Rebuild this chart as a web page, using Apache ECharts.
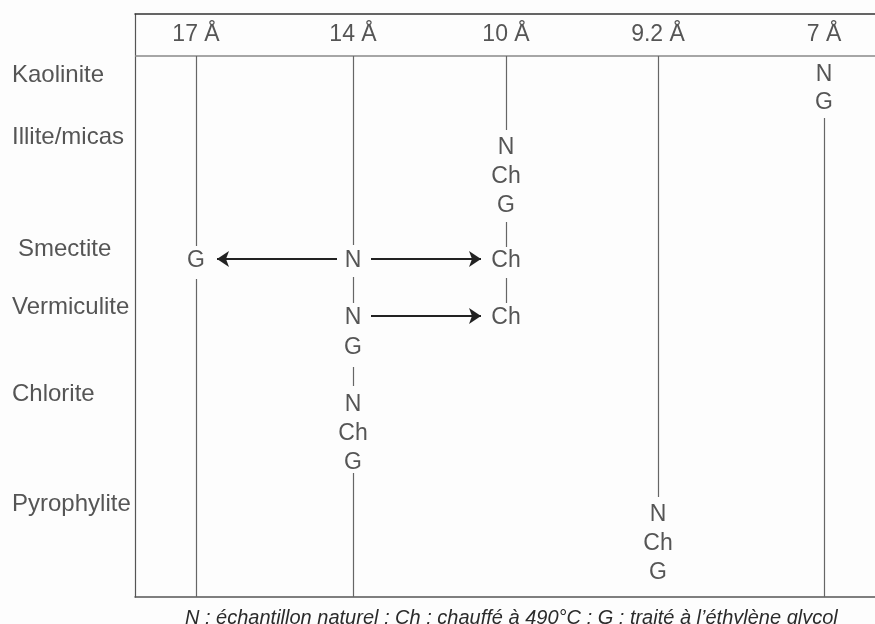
<!DOCTYPE html>
<html>
<head>
<meta charset="utf-8">
<script src="https://cdn.jsdelivr.net/npm/echarts@6/dist/echarts.min.js"></script>
<style>
html,body{margin:0;padding:0;background:#fdfdfd;}
#chart{width:875px;height:624px;}
</style>
</head>
<body>
<div id="chart"></div>
<script>
// Column headers (d-spacing) and their horizontal positions
const columns = ['17 Å', '14 Å', '10 Å', '9.2 Å', '7 Å'];
const columnX = [196, 353, 506, 658, 824];
const headerY = 35;
const headerRuleY = 56;

// Row labels (minerals) and their vertical positions
const minerals = ['Kaolinite', 'Illite/micas', 'Smectite', 'Vermiculite', 'Chlorite', 'Pyrophylite'];
const mineralY = [75, 137, 249, 307, 394, 504];
const mineralX = [12, 12, 18, 12, 12, 12];

// Treatment markers: text, column index, vertical position
const markerText = ['N', 'G',
  'N', 'Ch', 'G', 'Ch', 'Ch',
  'N', 'Ch', 'G',
  'N', 'N', 'G', 'N', 'Ch', 'G',
  'G'];
const markerCol = [4, 4,
  2, 2, 2, 2, 2,
  3, 3, 3,
  1, 1, 1, 1, 1, 1,
  0];
const markerY = [75, 103,
  148, 177, 206, 261, 318,
  515, 544, 573,
  261, 318, 348, 405, 434, 463,
  261];

// Vertical stems: column index, start y, end y
const stemCol = [0, 0, 1, 1, 1, 1, 2, 2, 2, 3, 4];
const stemStart = [56, 279, 56, 277, 367, 473, 56, 222, 278, 56, 118];
const stemEnd = [246, 597, 245, 303, 386, 597, 130, 247, 303, 497, 597];

// Arrows: start x, end x, y
const arrowFrom = [337, 371, 371];
const arrowTo = [217, 481, 481];
const arrowY = [259, 259, 316];

const footnote = 'N : échantillon naturel ; Ch : chauffé à 490°C ; G : traité à l’éthylène glycol';

const FONT = 'Liberation Sans';
const TEXT = '#2b2b2b';

const chart = echarts.init(document.getElementById('chart'));

const stemData = stemCol.map((c, i) => ({coords: [[columnX[c], stemStart[i]], [columnX[c], stemEnd[i]]]}));
const arrowData = arrowFrom.map((x, i) => ({coords: [[x, arrowY[i]], [arrowTo[i], arrowY[i]]]}));

chart.setOption({
  backgroundColor: '#fdfdfd',
  animation: false,
  title: {
    text: footnote,
    left: 180,
    top: 603,
    textStyle: {fontFamily: FONT, fontSize: 20, fontStyle: 'italic', fontWeight: 'normal', color: TEXT}
  },
  grid: {left: 135, right: 0, top: 14, bottom: 27},
  xAxis: [
    {type: 'value', min: 135, max: 875, position: 'top',
      axisLine: {show: true, lineStyle: {color: '#333', width: 1.5}},
      axisTick: {show: false}, axisLabel: {show: false}, splitLine: {show: false}},
    {type: 'value', min: 135, max: 875, position: 'bottom',
      axisLine: {show: true, lineStyle: {color: '#555', width: 1.5}},
      axisTick: {show: false}, axisLabel: {show: false}, splitLine: {show: false}}
  ],
  yAxis: {type: 'value', min: 14, max: 597, inverse: true,
    axisLine: {show: true, lineStyle: {color: '#555', width: 1.2}},
    axisTick: {show: false}, axisLabel: {show: false}, splitLine: {show: false}},
  series: [
    {
      type: 'lines', coordinateSystem: 'cartesian2d', silent: true,
      lineStyle: {color: '#888', width: 1.5, opacity: 1},
      data: [{coords: [[135, headerRuleY], [875, headerRuleY]]}]
    },
    {
      type: 'lines', coordinateSystem: 'cartesian2d', silent: true,
      lineStyle: {color: '#666', width: 1.2, opacity: 1},
      data: stemData
    },
    {
      type: 'lines', coordinateSystem: 'cartesian2d', silent: true,
      symbol: ['none', 'arrow'], symbolSize: [10, 12],
      lineStyle: {color: '#222', width: 2, opacity: 1},
      data: arrowData
    },
    {
      type: 'scatter', symbolSize: 0, silent: true,
      label: {show: true, position: 'inside', formatter: p => p.data.name,
        fontFamily: FONT, fontSize: 23, color: TEXT},
      data: markerText.map((t, i) => ({name: t, value: [columnX[markerCol[i]], markerY[i]]}))
    },
    {
      type: 'scatter', symbolSize: 0, silent: true,
      label: {show: true, position: 'inside', formatter: p => p.data.name,
        fontFamily: FONT, fontSize: 23, color: TEXT},
      data: columns.map((t, i) => ({name: t, value: [columnX[i], headerY]}))
    },
    {
      type: 'scatter', symbolSize: 0, silent: true, clip: false,
      label: {show: true, position: 'right', distance: 0, formatter: p => p.data.name,
        fontFamily: FONT, fontSize: 24, color: TEXT},
      data: minerals.map((t, i) => ({name: t, value: [mineralX[i], mineralY[i]]}))
    }
  ]
});
</script>
</body>
</html>
